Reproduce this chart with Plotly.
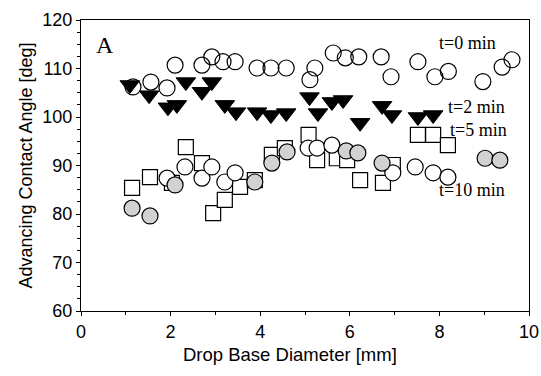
import plotly.graph_objects as go

# t=0 min (open circles)
t0_x = [1.16, 1.56, 1.92, 2.1, 2.7, 2.92, 3.17, 3.44, 3.93, 4.24, 4.58, 5.11, 5.22,
        5.63, 5.9, 6.2, 6.7, 6.92, 7.52, 7.9, 8.2, 8.97, 9.4, 9.62]
t0_y = [106.2, 107.2, 106.0, 110.7, 110.7, 112.4, 111.4, 111.4, 110.1, 110.1, 110.1, 107.7, 110.1,
        113.2, 112.2, 112.4, 112.4, 108.3, 111.4, 108.3, 109.4, 107.3, 110.3, 111.8]

# t=2 min (filled triangles)
t2_x = [1.09, 1.52, 1.94, 2.14, 2.34, 2.7, 2.92, 3.21, 3.46, 3.93, 4.24, 4.58, 5.1,
        5.29, 5.6, 5.85, 6.23, 6.72, 6.94, 7.52, 7.86]
t2_y = [106.6, 104.5, 102.0, 102.5, 107.2, 105.2, 107.2, 102.5, 101.0, 101.0, 100.4, 100.8, 104.1,
        100.8, 103.1, 103.5, 98.8, 102.3, 100.4, 100.0, 100.4]

# t=5 min (open squares)
t5_x = [1.14, 1.54, 2.03, 2.34, 2.7, 2.95, 3.21, 3.55, 3.88, 4.26, 4.55, 5.08, 5.27,
        5.71, 5.94, 6.23, 6.74, 6.96, 7.52, 7.86, 8.19]
t5_y = [85.4, 87.6, 86.4, 93.8, 90.5, 80.2, 82.9, 85.6, 87.0, 92.2, 93.6, 96.3, 91.1,
        91.5, 91.1, 87.0, 86.4, 90.1, 96.3, 96.3, 94.2]

# t=10 min (stippled grey circles)
t10_x = [1.14, 1.54, 2.1, 3.88, 4.26, 4.6, 5.92, 6.18, 6.72, 9.02, 9.35]
t10_y = [81.2, 79.6, 86.0, 86.6, 90.5, 92.8, 93.0, 92.6, 90.5, 91.5, 91.1]

# lower-band open circles
lo_x = [1.92, 2.32, 2.7, 2.92, 3.21, 3.44, 5.07, 5.27, 5.6, 6.96, 7.46, 7.86, 8.19]
lo_y = [87.4, 89.7, 87.4, 89.7, 86.6, 88.5, 93.6, 93.6, 94.2, 88.5, 89.7, 88.5, 87.6]

labels = ["t=0 min", "t=2 min", "t=5 min", "t=10 min"]
label_x = [7.95, 8.15, 8.2, 7.95]
label_y = [115.3, 102.0, 97.3, 85.0]

x_title = "Drop Base Diameter [mm]"
y_title = "Advancing Contact Angle [deg]"

fig = go.Figure()
fig.add_trace(go.Scatter(x=t5_x, y=t5_y, mode="markers", name=labels[2],
                         marker=dict(symbol="square", size=15, color="white",
                                     line=dict(color="black", width=1.2))))
fig.add_trace(go.Scatter(x=lo_x, y=lo_y, mode="markers", name="open",
                         marker=dict(symbol="circle", size=16, color="white",
                                     line=dict(color="black", width=1.2))))
fig.add_trace(go.Scatter(x=t10_x, y=t10_y, mode="markers", name=labels[3],
                         marker=dict(symbol="circle", size=16, color="#d2d2d2",
                                     line=dict(color="black", width=1.2))))
fig.add_trace(go.Scatter(x=t0_x, y=t0_y, mode="markers", name=labels[0],
                         marker=dict(symbol="circle", size=16, color="rgba(255,255,255,0)",
                                     line=dict(color="black", width=1.2))))
fig.add_trace(go.Scatter(x=t2_x, y=t2_y, mode="markers", name=labels[1],
                         marker=dict(symbol="triangle-down", size=17, color="black",
                                     line=dict(color="black", width=1))))

for lx, ly, lt in zip(label_x, label_y, labels):
    fig.add_annotation(x=lx, y=ly, text=lt, showarrow=False, xanchor="left",
                       font=dict(family="Liberation Serif", size=18, color="black"))
fig.add_annotation(x=0.3, y=114.8, text="A", showarrow=False, xanchor="left",
                   font=dict(family="Liberation Serif", size=24, color="black"))
fig.add_annotation(xref="paper", yref="paper", x=0.466, y=-0.15, text=x_title,
                   showarrow=False, xanchor="center", yanchor="middle",
                   font=dict(family="Liberation Sans", size=18.5, color="black"))

axis_common = dict(showline=True, linecolor="black", linewidth=1.2, mirror=True,
                   showgrid=False, zeroline=False, ticks="outside", ticklen=4,
                   tickcolor="black", automargin=False,
                   tickfont=dict(family="Liberation Sans", size=18, color="black"),
                   title_font=dict(family="Liberation Sans", size=18, color="black"))

fig.update_xaxes(range=[0, 10], dtick=2,
                 minor=dict(dtick=1, ticks="outside", ticklen=3, tickcolor="black"),
                 **axis_common)
fig.update_yaxes(range=[60, 120], dtick=10, title_text=y_title,
                 title_standoff=4,
                 minor=dict(dtick=2.5, ticks="outside", ticklen=3, tickcolor="black"),
                 **axis_common)

fig.update_layout(width=541, height=376, showlegend=False,
                  margin=dict(l=81, r=12, t=20, b=65),
                  plot_bgcolor="white", paper_bgcolor="white")

fig.write_html("out.html")
